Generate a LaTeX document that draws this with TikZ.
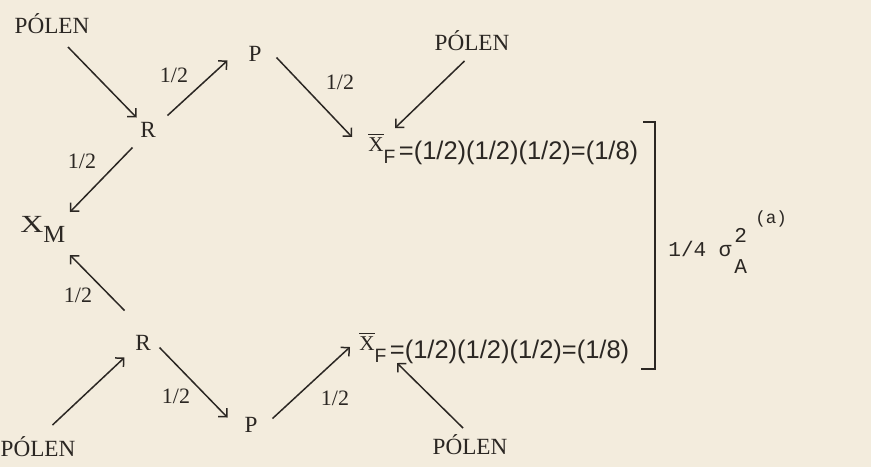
\documentclass[tikz,border=0pt]{standalone}
\usepackage{fontspec}
\setmainfont{Liberation Serif}
\newfontfamily\eqfont{Liberation Sans}
\newfontfamily\varfont{Liberation Mono}
\usetikzlibrary{arrows.meta}
\definecolor{paper}{HTML}{F3ECDD}
\definecolor{ink}{HTML}{2B2723}

\tikzset{
  lbl/.style={inner sep=0pt,text=ink,font=\fontsize{13.2}{15}\selectfont},
  prob/.style={inner sep=0pt,text=ink,font=\fontsize{12.5}{14}\selectfont},
  eqn/.style={inner sep=0pt,anchor=base west,text=ink,font=\eqfont\fontsize{14.5}{17}\selectfont},
  var/.style={inner sep=0pt,anchor=base west,text=ink,font=\varfont\fontsize{12}{14}\selectfont},
  cross/.style={draw=ink,line width=0.85pt,-{Straight Barb[length=3.5pt,width=7pt]}},
}
\newcommand{\meanxf}{\raisebox{4.5pt}{\rmfamily\fontsize{12}{14}\selectfont$\overline{\hbox{X}}$}\raisebox{-2.3pt}{\fontsize{11}{12}\selectfont F}\hspace{2pt}}

\begin{document}
\begin{tikzpicture}[x=0.02cm,y=-0.02cm]
  \fill[paper] (0,0) rectangle (871,467);
  % upper family
  \node[lbl] (pol1) at (52,24) {PÓLEN};
  \node[lbl] (pol2) at (472,41) {PÓLEN};
  \node[lbl] (r1) at (148,130) {R};
  \node[lbl] (p1) at (255,54) {P};
  \node[eqn] (xf1) at (368,159) {\meanxf=(1/2)(1/2)(1/2)=(1/8)};
  \node[prob] (h1) at (174,75) {1/2};
  \node[prob] (h2) at (340,82) {1/2};
  \node[prob] (h3) at (82,161) {1/2};
  % mother
  \node[lbl,anchor=base west,font=\fontsize{14}{16}\selectfont] (xm) at (20,232) {\scalebox{1.3}[1]{X}\raisebox{-5.7pt}{M}};
  % lower family
  \node[lbl] (r2) at (143,343) {R};
  \node[lbl] (p2) at (251,425) {P};
  \node[lbl] (pol3) at (38,447) {PÓLEN};
  \node[lbl] (pol4) at (470,445) {PÓLEN};
  \node[eqn] (xf2) at (359,358) {\meanxf=(1/2)(1/2)(1/2)=(1/8)};
  \node[prob] (h4) at (78,295) {1/2};
  \node[prob] (h5) at (176,396) {1/2};
  \node[prob] (h6) at (335,398) {1/2};
  % covariance
  \draw[ink,line width=1.1pt] (643,122) -- (655,122) -- (655,369) -- (641,369);
  \node[var] (coef) at (668,256) {1/4 σ};
  \node[var] (sq) at (734,242) {2};
  \node[var] (subA) at (734,273) {A};
  \node[var,font=\varfont\fontsize{10}{11}\selectfont] (note) at (755,223) {(a)};

  \draw[cross] ([shift={(16,23)}]pol1.center) -- ([shift={(-11.5,-12.5)}]r1.center);
  \draw[cross] ([shift={(19.5,-14.5)}]r1.center) -- ([shift={(-27.5,6.5)}]p1.center);
  \draw[cross] ([shift={(21.5,3.5)}]p1.center) -- ([shift={(-16,-22)}]xf1.base west);
  \draw[cross] ([shift={(-7.5,20)}]pol2.center) -- ([shift={(27,-31)}]xf1.base west);
  \draw[cross] ([shift={(-15.5,17.5)}]r1.center) -- ([shift={(50,-20)}]xm.base west);
  \draw[cross] ([shift={(-18.5,-32.5)}]r2.center) -- ([shift={(50,23)}]xm.base west);
  \draw[cross] ([shift={(14.5,-22)}]pol3.center) -- ([shift={(-18.5,14.5)}]r2.center);
  \draw[cross] ([shift={(16.5,4.5)}]r2.center) -- ([shift={(-23.5,-7.5)}]p2.center);
  \draw[cross] ([shift={(21.5,-6.5)}]p2.center) -- ([shift={(-9,-11)}]xf2.base west);
  \draw[cross] ([shift={(-7,-17)}]pol4.center) -- ([shift={(38,5)}]xf2.base west);
\end{tikzpicture}
\end{document}
